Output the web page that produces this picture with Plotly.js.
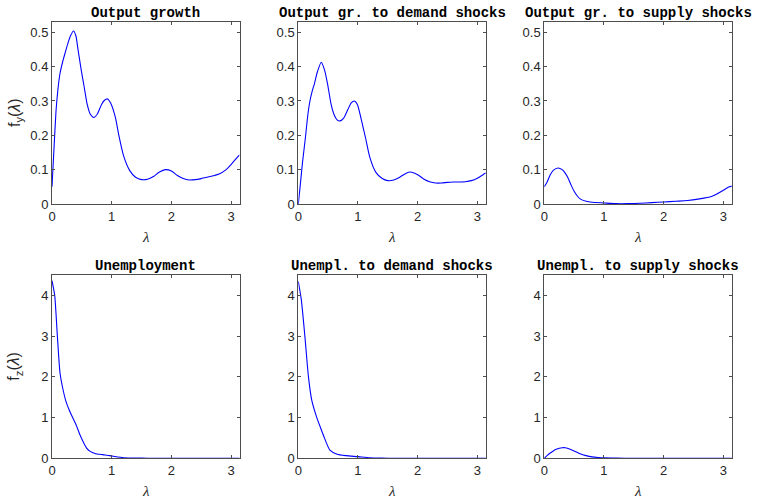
<!DOCTYPE html>
<html>
<head>
<meta charset="utf-8">
<script src="https://cdn.plot.ly/plotly-3.0.1.min.js"></script>
<style>html,body{margin:0;padding:0;background:#fff;}#chart{width:764px;height:499px;}</style>
</head>
<body>
<div id="chart"></div>
<script>
// Panel titles
const titles = ["Output growth", "Output gr. to demand shocks", "Output gr. to supply shocks",
                "Unemployment", "Unempl. to demand shocks", "Unempl. to supply shocks"];
const xTicks = [0, 1, 2, 3];
const yTicksTop = [0, 0.1, 0.2, 0.3, 0.4, 0.5];
const yTicksBottom = [0, 1, 2, 3, 4];

// Output growth
const lamY = [0, 0.03, 0.067, 0.1, 0.134, 0.18, 0.22, 0.27, 0.31, 0.36, 0.4, 0.44, 0.49, 0.54, 0.59, 0.64, 0.7, 0.76, 0.83, 0.88, 0.93, 0.98, 1.06, 1.12, 1.2, 1.3, 1.4, 1.5, 1.6, 1.7, 1.8, 1.9, 2.0, 2.1, 2.2, 2.3, 2.4, 2.5, 2.6, 2.7, 2.8, 2.9, 3.0, 3.1, 3.1416];
const fY = [0.05, 0.15, 0.27, 0.335, 0.38, 0.415, 0.44, 0.47, 0.49, 0.504, 0.49, 0.445, 0.39, 0.34, 0.29, 0.262, 0.252, 0.262, 0.29, 0.302, 0.306, 0.295, 0.254, 0.2, 0.14, 0.098, 0.078, 0.071, 0.072, 0.08, 0.093, 0.1, 0.096, 0.083, 0.074, 0.07, 0.071, 0.074, 0.078, 0.082, 0.087, 0.098, 0.115, 0.135, 0.143];

// Output growth to demand shocks
const lamYD = [0, 0.03, 0.07, 0.117, 0.16, 0.195, 0.235, 0.27, 0.32, 0.385, 0.44, 0.49, 0.55, 0.6, 0.65, 0.7, 0.76, 0.83, 0.89, 0.94, 0.99, 1.05, 1.13, 1.2, 1.3, 1.4, 1.5, 1.6, 1.7, 1.8, 1.88, 2.0, 2.1, 2.2, 2.3, 2.4, 2.5, 2.6, 2.8, 2.9, 3.0, 3.1, 3.1416];
const fYD = [0, 0.05, 0.12, 0.19, 0.26, 0.3, 0.33, 0.35, 0.385, 0.413, 0.39, 0.35, 0.29, 0.26, 0.245, 0.242, 0.25, 0.275, 0.295, 0.30, 0.29, 0.25, 0.19, 0.135, 0.092, 0.075, 0.068, 0.07, 0.078, 0.089, 0.093, 0.085, 0.073, 0.065, 0.061, 0.061, 0.063, 0.064, 0.065, 0.068, 0.075, 0.086, 0.09];

// Output growth to supply shocks
const lamYS = [0, 0.05, 0.1, 0.15, 0.23, 0.3, 0.35, 0.4, 0.45, 0.5, 0.55, 0.6, 0.7, 0.8, 1.0, 1.2, 1.4, 1.6, 1.8, 2.0, 2.2, 2.4, 2.6, 2.8, 2.9, 3.0, 3.1, 3.1416];
const fYS = [0.05, 0.065, 0.085, 0.098, 0.105, 0.1, 0.09, 0.075, 0.055, 0.037, 0.024, 0.015, 0.008, 0.005, 0.003, 0.001, 0.001, 0.002, 0.004, 0.006, 0.008, 0.01, 0.015, 0.022, 0.03, 0.04, 0.05, 0.052];

// Unemployment
const lamZ = [0, 0.045, 0.09, 0.134, 0.18, 0.235, 0.29, 0.346, 0.41, 0.47, 0.53, 0.58, 0.64, 0.72, 0.85, 0.97, 1.1, 1.2, 1.4, 1.6, 2.0, 2.5, 3.1416];
const fZ = [4.36, 4.0, 3.0, 2.1, 1.72, 1.39, 1.18, 1.0, 0.8, 0.57, 0.38, 0.25, 0.17, 0.12, 0.09, 0.066, 0.03, 0.015, 0.005, 0.002, 0.001, 0.001, 0.001];

// Unemployment to demand shocks
const lamZD = [0, 0.05, 0.11, 0.17, 0.225, 0.31, 0.37, 0.43, 0.53, 0.65, 0.8, 1.0, 1.2, 1.4, 1.6, 2.0, 2.5, 3.1416];
const fZD = [4.34, 3.9, 3.0, 2.0, 1.43, 1.0, 0.76, 0.53, 0.2, 0.1, 0.065, 0.04, 0.012, 0.004, 0.001, 0, 0, 0];

// Unemployment to supply shocks
const lamZS = [0, 0.05, 0.1, 0.15, 0.2, 0.3, 0.35, 0.4, 0.5, 0.6, 0.7, 0.8, 0.9, 1.0, 1.2, 1.5, 2.0, 2.5, 3.1416];
const fZS = [0, 0.07, 0.13, 0.18, 0.22, 0.26, 0.26, 0.24, 0.18, 0.11, 0.065, 0.035, 0.02, 0.01, 0.004, 0.001, 0, 0, 0];

const xs = [lamY, lamYD, lamYS, lamZ, lamZD, lamZS];
const ys = [fY, fYD, fYS, fZ, fZD, fZS];

const W = 764, H = 499;
const colsPx = [[52, 239.5], [298.3, 485.8], [544.3, 731.8]];
const rowsPx = [[22, 204], [275, 458.3]];

const traces = [];
const layout = {
  width: W, height: H,
  margin: {l: 0, r: 0, t: 0, b: 0},
  paper_bgcolor: '#ffffff', plot_bgcolor: '#ffffff',
  showlegend: false,
  annotations: []
};
const axColor = '#262626';
for (let i = 0; i < 6; i++) {
  const r = Math.floor(i / 3), c = i % 3;
  const n = i === 0 ? '' : String(i + 1);
  traces.push({
    x: xs[i], y: ys[i], type: 'scatter', mode: 'lines',
    line: {color: '#0000ff', width: 1.1, shape: 'spline', smoothing: 0.6},
    xaxis: 'x' + n, yaxis: 'y' + n, hoverinfo: 'skip'
  });
  const common = {
    showline: true, linecolor: '#4d4d4d', linewidth: 1, mirror: 'ticks',
    ticks: 'inside', ticklen: 3, tickcolor: '#4d4d4d', tickwidth: 1,
    showgrid: false, zeroline: false,
    tickfont: {family: 'Liberation Sans, Arial, sans-serif', size: 13, color: axColor}
  };
  layout['xaxis' + n] = Object.assign({}, common, {
    domain: [colsPx[c][0] / W, colsPx[c][1] / W],
    range: [0, Math.PI], tickvals: xTicks, ticktext: xTicks.map(String),
    anchor: 'y' + n
  });
  const yt = r === 0 ? yTicksTop : yTicksBottom;
  layout['yaxis' + n] = Object.assign({}, common, {
    domain: [1 - rowsPx[r][1] / H, 1 - rowsPx[r][0] / H],
    range: r === 0 ? [0, 0.53] : [0, 4.5],
    tickvals: yt, ticktext: yt.map(String),
    anchor: 'x' + n
  });
  // Title
  layout.annotations.push({
    text: titles[i], xref: 'paper', yref: 'paper',
    x: (colsPx[c][0] + colsPx[c][1]) / 2 / W, y: 1 - (rowsPx[r][0] - 9) / H,
    xanchor: 'center', yanchor: 'middle', showarrow: false,
    font: {family: 'Liberation Mono, Courier New, monospace', size: 14, weight: 'bold', color: '#000'}
  });
  // x label
  layout.annotations.push({
    text: 'λ', xref: 'paper', yref: 'paper',
    x: (colsPx[c][0] + colsPx[c][1]) / 2 / W, y: 1 - (rowsPx[r][1] + 33) / H,
    xanchor: 'center', yanchor: 'middle', showarrow: false,
    font: {family: 'Liberation Serif, Times New Roman, serif', size: 15, style: 'italic', color: axColor}
  });
}
// y labels
const yLabels = ['f<sub>y</sub>(<i>λ</i>)', 'f<sub>z</sub>(<i>λ</i>)'];
for (let r = 0; r < 2; r++) {
  layout.annotations.push({
    text: yLabels[r], xref: 'paper', yref: 'paper',
    x: 15 / W, y: 1 - (rowsPx[r][0] + rowsPx[r][1]) / 2 / H,
    xanchor: 'center', yanchor: 'middle', showarrow: false, textangle: -90,
    font: {family: 'Liberation Sans, Arial, sans-serif', size: 16, color: axColor}
  });
}
Plotly.newPlot('chart', traces, layout, {displayModeBar: false, staticPlot: true});
</script>
</body>
</html>
